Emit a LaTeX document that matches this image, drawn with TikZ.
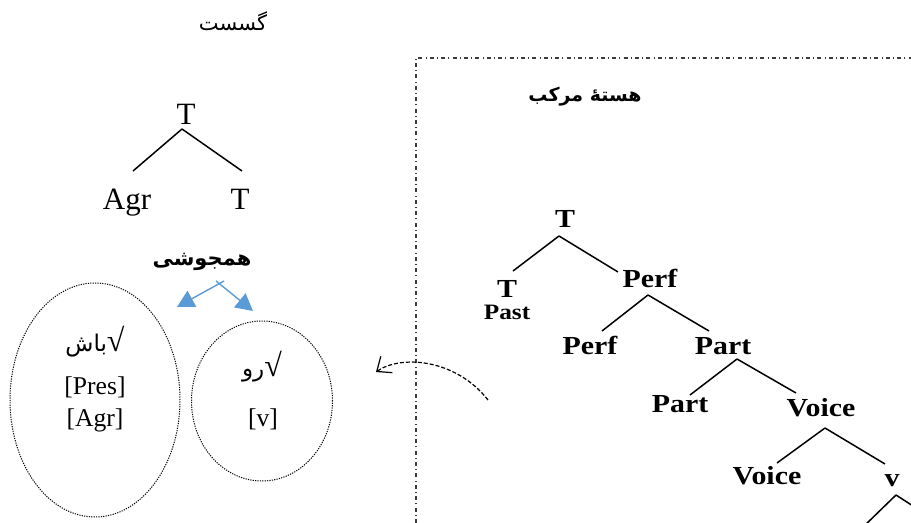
\documentclass[tikz,border=0pt]{standalone}
\usepackage{fontspec}
\setmainfont{Liberation Serif}
\newfontfamily\arabicfont[Script=Arabic]{DejaVu Sans}
\newfontfamily\treefont[FakeStretch=1.15]{Liberation Serif}
\usetikzlibrary{arrows.meta,shapes.geometric}
\TeXXeTstate=1
\definecolor{fuseblue}{RGB}{91,155,213}
\definecolor{framegray}{RGB}{60,60,60}
\newcommand\rootsign{{\fontsize{16}{16}\selectfont √}}

\begin{document}
\begin{tikzpicture}[x=0.5pt, y=-0.5pt,
    word/.style={anchor=base, inner sep=1pt},
    catnode/.style={word, font=\fontsize{15.5}{18}\selectfont},
    bcat/.style={word, font=\treefont\bfseries\fontsize{13}{15}\selectfont},
    feat/.style={word, font=\fontsize{12.8}{15}\selectfont},
    fa/.style={word, font=\arabicfont\fontsize{#1}{14}\selectfont},
    branch/.style={line width=0.75pt},
    rootshape/.style={draw, ellipse, inner sep=0pt, line width=0.5pt,
      dash pattern=on 0.6pt off 0.6pt},
    fusearrow/.style={fuseblue, line width=0.7pt,
      -{Triangle[length=8.5pt,width=9pt]}}]
  \useasboundingbox (0,0) rectangle (911,523);
  \clip (0,0) rectangle (911,523);

  % Titles
  \node[fa=10.5] (gosast) at (233,31) {\beginR گسست\endR};
  \node[word, font=\arabicfont\bfseries\fontsize{9.5}{12}\selectfont] (hasteh) at (585,102) {\beginR هستهٔ مرکب\endR};
  \node[word, font=\arabicfont\bfseries\fontsize{10.5}{13}\selectfont] (hamjushi) at (202,266) {\beginR همجوشی\endR};

  % Left tree
  \node[catnode] (tl) at (186,125) {T};
  \node[catnode] (agr) at (127,210) {Agr};
  \node[catnode] (tr) at (240,210) {T};
  \draw[branch] ([shift={(-4,4)}]tl.base) -- ([shift={(6,-39)}]agr.base);
  \draw[branch] ([shift={(-4,4)}]tl.base) -- ([shift={(2,-39)}]tr.base);

  % Fusion arrows
  \coordinate (fuse) at (220,283);
  \coordinate (fuseA) at (177,307);
  \coordinate (fuseB) at (253,311);
  \draw[fusearrow] ([shift={(4,-2)}]fuse) -- (fuseA);
  \draw[fusearrow] ([shift={(-4,-2)}]fuse) -- (fuseB);

  % Roots
  \node[rootshape, minimum width=85pt, minimum height=117pt] (rootA) at (95,400) {};
  \node[rootshape, minimum width=70.5pt, minimum height=80pt] (rootB) at (262,401) {};
  \node[feat] (bash) at (95,352) {{\arabicfont\fontsize{11.5}{12}\selectfont\beginR باش\endR}\rootsign};
  \node[feat] (pres) at (95,395) {[Pres]};
  \node[feat] (agrf) at (95,427) {[Agr]};
  \node[feat] (rav) at (262,377) {{\arabicfont\fontsize{11.5}{12}\selectfont\beginR رو\endR}\rootsign};
  \node[feat] (vf) at (263,427) {[v]};

  % Frame of the compound head
  \draw[framegray, line width=0.55pt, dash pattern=on 2pt off 1.6pt on 0.5pt off 1.6pt]
    (416,523) -- (416,58) -- (911,58);

  % Moved head
  \coordinate (moveFrom) at (488,400);
  \coordinate (moveTo) at (376,372);
  \draw[line width=0.6pt, dash pattern=on 2pt off 1pt, -{Straight Barb[length=6pt,width=10pt]}]
    (moveFrom) .. controls (455,358) and (400,355) .. (moveTo);

  % Right tree
  \node[bcat] (tp) at (565,228) {T};
  \node[bcat] (tpast) at (507,298) {T};
  \node[word, font=\treefont\bfseries\fontsize{11}{13}\selectfont] (past) at (507,320) {Past};
  \node[bcat] (perf) at (650,288) {Perf};
  \node[bcat] (perfhd) at (590,355) {Perf};
  \node[bcat] (part) at (723,355) {Part};
  \node[bcat] (parthd) at (680,413) {Part};
  \node[bcat] (voice) at (821,417) {Voice};
  \node[bcat] (voicehd) at (767,485) {Voice};
  \node[bcat] (vsmall) at (892,487) {v};
  \coordinate (vleft) at (860,530);
  \coordinate (vright) at (930,517);
  \draw[branch] ([shift={(-6,8)}]tp.base) -- ([shift={(6,-27)}]tpast.base);
  \draw[branch] ([shift={(-6,8)}]tp.base) -- ([shift={(-32,-16)}]perf.base);
  \draw[branch] ([shift={(-2,7)}]perf.base) -- ([shift={(12,-24)}]perfhd.base);
  \draw[branch] ([shift={(-2,7)}]perf.base) -- ([shift={(-14,-24)}]part.base);
  \draw[branch] ([shift={(14,4)}]part.base) -- ([shift={(10,-18)}]parthd.base);
  \draw[branch] ([shift={(14,4)}]part.base) -- ([shift={(-25,-24)}]voice.base);
  \draw[branch] ([shift={(4,11)}]voice.base) -- ([shift={(10,-22)}]voicehd.base);
  \draw[branch] ([shift={(4,11)}]voice.base) -- ([shift={(-7,-23)}]vsmall.base);
  \draw[branch] ([shift={(4,8)}]vsmall.base) -- (vleft);
  \draw[branch] ([shift={(4,8)}]vsmall.base) -- (vright);
\end{tikzpicture}
\end{document}
